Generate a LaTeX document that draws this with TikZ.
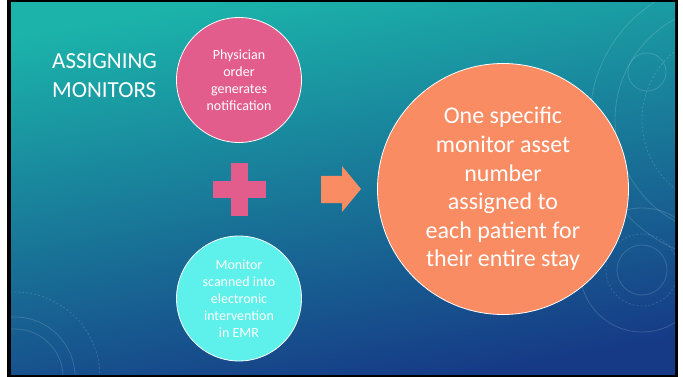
\documentclass[tikz,border=0pt]{standalone}
\usepackage{fontspec}
\setmainfont{Carlito}
\definecolor{pinkc}{HTML}{E35D8C}
\definecolor{cyanc}{HTML}{5EF0EA}
\definecolor{orangec}{HTML}{F98C62}
\definecolor{bgtop}{HTML}{1BB3AA}
\definecolor{bgmid}{HTML}{1780A0}
\definecolor{bgbot}{HTML}{163A86}
\begin{document}
\begin{tikzpicture}[x=1pt,y=-1pt,
  bubble/.style={circle, draw=white, line width=0.8pt, text=white, align=center, inner sep=0pt, minimum size=125pt, font=\fontsize{14}{17}\selectfont},
  ring/.style={draw=white, opacity=0.15, line width=0.8pt},
  dring/.style={ring, dash pattern=on 2pt off 2pt}]
\useasboundingbox (0,0) rectangle (683,377);
\fill[white] (0,0) rectangle (683,377);
\fill[black] (7,0) rectangle (678,377);
\shade[top color=bgtop, middle color=bgmid, bottom color=bgbot, shading angle=10] (11,3) rectangle (675,374);
\begin{scope}
  \clip (11,3) rectangle (675,374);
  \draw[ring] (647,72) circle (19);
  \draw[ring] (730,120) circle (115);
  \draw[ring] (730,120) circle (140);
  \draw[dring] (730,120) circle (88);
  \draw[ring] (642,270) circle (25);
  \draw[dring] (642,270) circle (36);
  \draw[ring] (642,270) circle (62);
  \draw[ring] (15,377) circle (48);
  \draw[ring] (15,377) circle (60);
  \draw[dring] (15,377) circle (85);
\end{scope}
\node[anchor=west, text=white, align=left, inner sep=0pt, font=\fontsize{23}{29}\selectfont] (title) at (52,75.5) {ASSIGNING\\MONITORS};
\node[bubble, fill=pinkc] (phys) at (239,80) {Physician\\order\\generates\\notification};
\node[bubble, fill=cyanc] (scan) at (239,298.5) {Monitor\\scanned into\\electronic\\intervention\\in EMR};
\node[bubble, fill=orangec, minimum size=251pt, font=\fontsize{24}{28.6}\selectfont] (asset) at (503,189) {One specific\\monitor asset\\number\\assigned to\\each patient for\\their entire stay};
\fill[pinkc] (212.7,181) rectangle (266,197.7);
\fill[pinkc] (231,162.7) rectangle (248.3,215.7);
\fill[orangec] (321,176) -- (342,176) -- (342,166) -- (361,189) -- (342,212) -- (342,203) -- (321,203) -- cycle;
\end{tikzpicture}
\end{document}
